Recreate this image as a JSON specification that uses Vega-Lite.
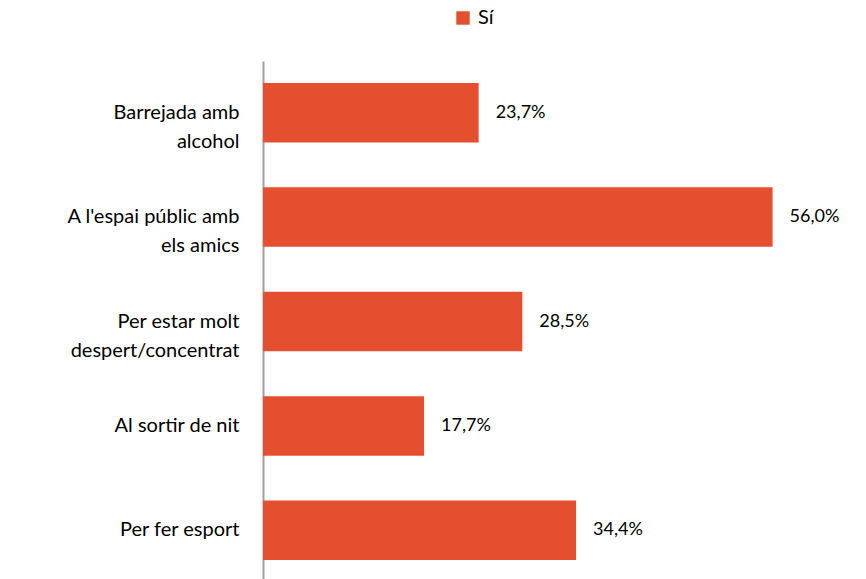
{
  "$schema": "https://vega.github.io/schema/vega-lite/v6.json",
  "autosize": "none",
  "width": 546,
  "height": 521,
  "padding": {"left": 263, "top": 61, "right": 57, "bottom": 0},
  "config": {
    "view": {"stroke": null},
    "font": "Lato",
    "locale": {"number": {"decimal": ",", "thousands": ".", "grouping": [3], "currency": ["", " €"]}}
  },
  "data": {
    "values": [
      {"cat": "Barrejada amb|alcohol", "value": 0.237, "serie": "Sí"},
      {"cat": "A l'espai públic amb|els amics", "value": 0.560, "serie": "Sí"},
      {"cat": "Per estar molt|despert/concentrat", "value": 0.285, "serie": "Sí"},
      {"cat": "Al sortir de nit", "value": 0.177, "serie": "Sí"},
      {"cat": "Per fer esport", "value": 0.344, "serie": "Sí"}
    ]
  },
  "encoding": {
    "y": {
      "field": "cat", "type": "nominal", "sort": null,
      "scale": {"paddingInner": 0.43, "paddingOuter": 0.21},
      "axis": {
        "title": null, "ticks": false, "domainColor": "#A0A0A0", "domainWidth": 2,
        "labelExpr": "split(datum.label, '|')",
        "labelFontSize": 20, "labelLineHeight": 29, "labelPadding": 24,
        "labelColor": "#000000", "labelFont": "Lato", "labelLimit": 300
      }
    },
    "x": {
      "field": "value", "type": "quantitative",
      "scale": {"domain": [0, 0.6]},
      "axis": null
    }
  },
  "layer": [
    {
      "mark": {"type": "bar"},
      "encoding": {
        "color": {
          "field": "serie", "type": "nominal",
          "scale": {"range": ["#E4502F"]},
          "legend": {
            "title": null, "orient": "none", "legendX": 190, "legendY": -53,
            "symbolType": "square", "symbolSize": 180, "symbolStrokeWidth": 0,
            "labelFontSize": 20, "labelFont": "Lato", "labelColor": "#000000", "labelOffset": 5
          }
        }
      }
    },
    {
      "mark": {"type": "text", "align": "left", "dx": 17, "fontSize": 18, "font": "Lato", "color": "#000000"},
      "encoding": {
        "text": {"field": "value", "type": "quantitative", "format": ".1%"}
      }
    }
  ]
}
